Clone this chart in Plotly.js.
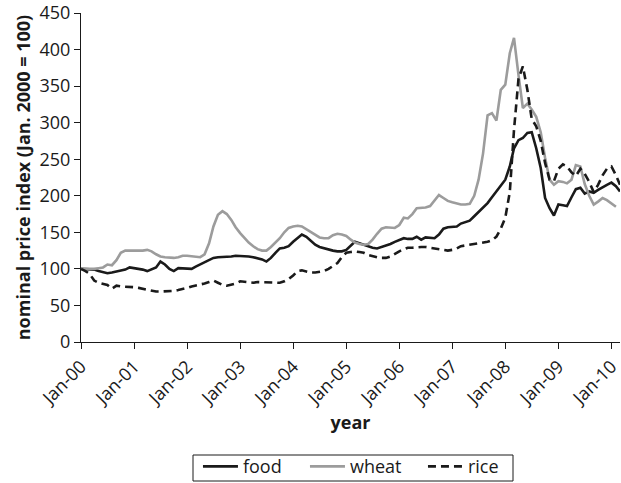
<!DOCTYPE html>
<html>
<head>
<meta charset="utf-8">
<script src="https://cdn.plot.ly/plotly-3.0.1.min.js"></script>
<style>html,body{margin:0;padding:0;background:#fff;}#chart{width:621px;height:483px;}</style>
</head>
<body>
<div id="chart"></div>
<script>
// Monthly index values, Jan 2000 onward (Jan. 2000 = 100)
const startYear = 2000;
const food = [100,100,100,99,97,95,94,95,96,97,99,102,
  101,100,99,97,100,102,110,106,100,97,101,101,
  100,100,103,106,110,113,115,116,116,116,117,118,
  118,117,117,116,115,113,110,115,122,128,129,131,
  137,142,147,144,138,133,130,128,126,125,124,124,
  126,132,137,135,133,131,129,128,130,132,134,137,
  140,142,141,141,144,140,143,143,142,147,155,157,
  157,158,162,164,166,172,178,184,190,198,206,215,
  222,240,265,276,279,286,287,265,238,197,183,173,
  188,187,186,198,209,211,203,206,204,208,212,215,
  218,213,206];
const wheat = [100,100,99,100,101,102,106,105,112,122,125,125,
  124,124,125,126,124,120,117,116,115,115,116,118,
  118,117,116,116,120,135,158,174,179,175,167,157,
  149,142,136,131,127,125,125,130,136,142,150,156,
  158,159,158,154,150,146,143,142,142,146,148,147,
  145,140,136,134,133,134,140,148,155,157,157,156,
  160,170,169,175,183,183,184,186,194,201,197,193,
  191,189,188,188,189,200,222,258,310,313,303,345,
  352,395,416,365,320,326,318,308,287,252,222,215,
  220,219,217,222,242,240,216,200,188,192,197,194,
  190,185];
const rice = [100,97,93,84,81,80,78,73,77,76,76,75,
  75,74,73,71,70,69,69,69,69,70,71,73,
  74,76,77,78,80,82,84,81,78,77,78,80,
  83,82,81,81,82,82,81,81,81,81,83,86,
  91,97,98,96,95,95,96,97,100,104,108,116,
  122,123,124,123,122,119,117,116,115,115,117,121,
  124,127,129,129,130,130,130,129,127,126,125,125,
  126,128,131,132,133,133,134,136,137,139,144,155,
  170,205,290,360,377,345,305,295,275,245,222,220,
  237,243,240,232,227,237,230,219,205,215,228,237,
  240,228,215];
const seriesNames = ['food','wheat','rice'];

function monthDates(n){
  const out=[];
  for(let i=0;i<n;i++){
    const y=startYear+Math.floor(i/12), m=(i%12)+1;
    out.push(y+'-'+String(m).padStart(2,'0')+'-01');
  }
  return out;
}
const dates = monthDates(food.length);

const FONT = '"Open Sans", "DejaVu Sans", sans-serif';
const traces = [
  {x: dates, y: food, name: seriesNames[0], type:'scatter', mode:'lines',
   line:{color:'#1a1a1a', width:2.6}, legendwidth:57},
  {x: dates, y: wheat, name: seriesNames[1], type:'scatter', mode:'lines',
   line:{color:'#9c9c9c', width:2.6}, legendwidth:68},
  {x: dates, y: rice, name: seriesNames[2], type:'scatter', mode:'lines',
   line:{color:'#1a1a1a', width:2.6, dash:'8px,5px'}, legendwidth:45}
];

const layout = {
  width:621, height:483,
  margin:{l:81, r:1, t:13, b:141},
  paper_bgcolor:'#fff', plot_bgcolor:'#fff',
  font:{family:FONT, size:18, color:'#1a1a1a'},
  showlegend:true,
  legend:{orientation:'h', xref:'paper', x:0.217, xanchor:'left',
    yref:'container', y:0.072, yanchor:'top',
    borderwidth:0, bgcolor:'rgba(0,0,0,0)', font:{size:18, family:FONT},
    itemwidth:35},
  shapes:[{type:'rect', xref:'paper', yref:'paper',
    x0:0.2078, x1:0.8015, y0:-0.3435, y1:-0.4225,
    line:{color:'#1a1a1a', width:1}, fillcolor:'rgba(0,0,0,0)'}],
  xaxis:{type:'date', range:['2000-01-01','2010-03-01'],
    dtick:'M12', tick0:'2000-01-01', tickformat:'%b-%y', tickangle:-45,
    ticks:'outside', ticklen:6, tickcolor:'#1a1a1a', tickwidth:1,
    ticklabeloverflow:'allow',
    showline:true, linecolor:'#1a1a1a', linewidth:1,
    showgrid:false, zeroline:false, automargin:false,
    tickfont:{size:18},
    title:{text:'<b>year</b>', font:{size:18}, standoff:7}},
  yaxis:{range:[0,450], dtick:50, ticks:'outside', ticklen:6,
    tickcolor:'#1a1a1a', tickwidth:1,
    showline:true, linecolor:'#1a1a1a', linewidth:1,
    showgrid:false, zeroline:false, automargin:false,
    tickfont:{size:18},
    title:{text:'<b>nominal price index (Jan. 2000 = 100)</b>', font:{size:18}, standoff:4}}
};

Plotly.newPlot('chart', traces, layout, {displayModeBar:false, staticPlot:true});
</script>
</body>
</html>
